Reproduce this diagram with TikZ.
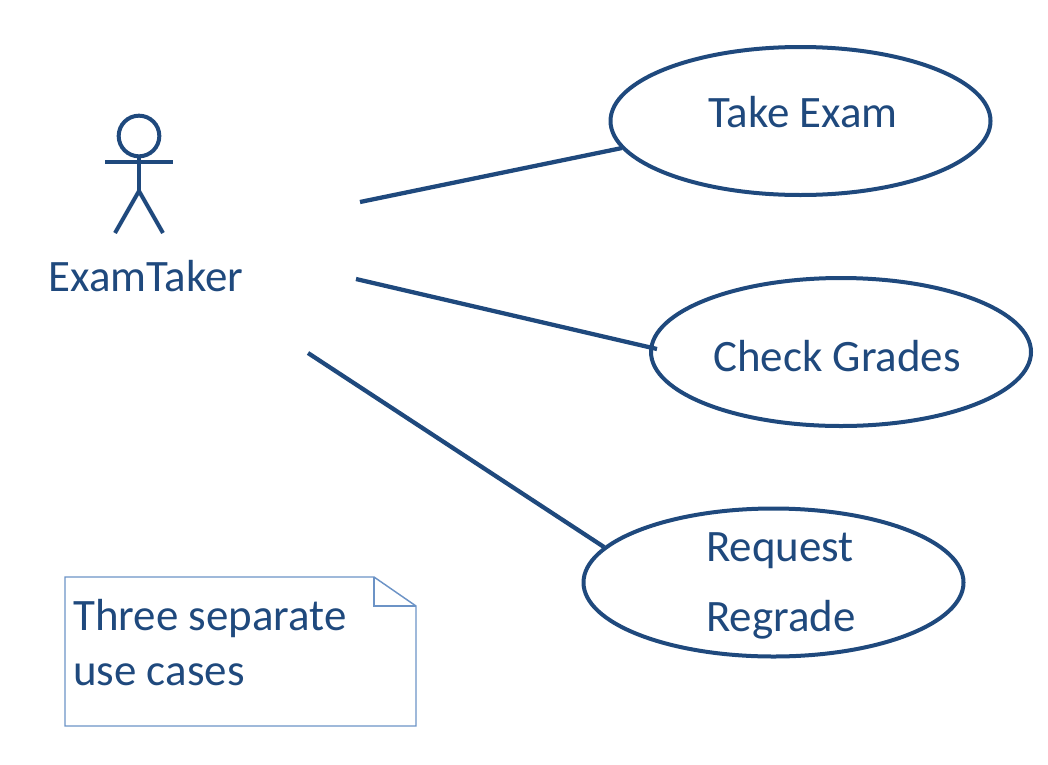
\documentclass[tikz,border=0pt]{standalone}
\usepackage{fontspec}
\setmainfont{Carlito}
\usetikzlibrary{shapes.geometric}
\definecolor{navy}{HTML}{1F497D}
\definecolor{notecol}{HTML}{6C93C6}
\tikzset{
 px/.style={x=0.75pt,y=-0.75pt},
 usecase/.style={draw=navy,line width=3pt,ellipse,inner sep=0pt,minimum width=285pt,minimum height=111pt},
 link/.style={draw=navy,line width=3.2pt},
 stick/.style={draw=navy,line width=3pt},
 lbl/.style={text=navy,font=\fontsize{33.7}{33.7}\selectfont,inner sep=0pt},
 notetxt/.style={text=navy,font=\fontsize{33.7}{33.7}\selectfont,inner sep=0pt,anchor=base west},
 noteline/.style={draw=notecol,line width=1.1pt}
}
\begin{document}
\begin{tikzpicture}[px]
\useasboundingbox (0,0) rectangle (1048,764);
\node[usecase] (take) at (800.5,121) {};
\node[usecase] (check) at (841,352) {};
\node[usecase] (regrade) at (773.5,582.5) {};
\node[lbl] at (803,112) {Take Exam};
\node[lbl] at (837,356.5) {Check Grades};
\node[lbl] at (780,551) {Request};
\node[lbl] at (781,620) {Regrade};
\node[lbl] (taker) at (146,276.5) {ExamTaker};
\coordinate (a1) at (360,202);
\coordinate (a2) at (356,279);
\coordinate (a3) at (308,353);
\coordinate (b1) at (622,148);
\coordinate (b2) at (657,349);
\coordinate (b3) at (604,547);
\draw[link] (a1) -- (b1);
\draw[link] (a2) -- (b2);
\draw[link] (a3) -- (b3);
\node[draw=navy,line width=3pt,circle,inner sep=0pt,minimum size=30.5pt] (head) at (139,136) {};
\coordinate (hip) at (139,191);
\coordinate (armL) at (105,162);
\coordinate (armR) at (173,162);
\coordinate (footL) at (115,233);
\coordinate (footR) at (163,233);
\draw[stick] (head.south) -- (hip);
\draw[stick] (armL) -- (armR);
\draw[stick] (footL) -- (hip) -- (footR);
\coordinate (n1) at (65,577);
\coordinate (n2) at (374,577);
\coordinate (n3) at (416,606);
\coordinate (n4) at (416,726);
\coordinate (n5) at (65,726);
\coordinate (n6) at (374,606);
\draw[noteline] (n1) -- (n2) -- (n3) -- (n4) -- (n5) -- cycle;
\draw[noteline] (n2) -- (n6) -- (n3);
\node[notetxt] at (73,630) {Three separate};
\node[notetxt] at (73,685) {use cases};
\end{tikzpicture}
\end{document}
